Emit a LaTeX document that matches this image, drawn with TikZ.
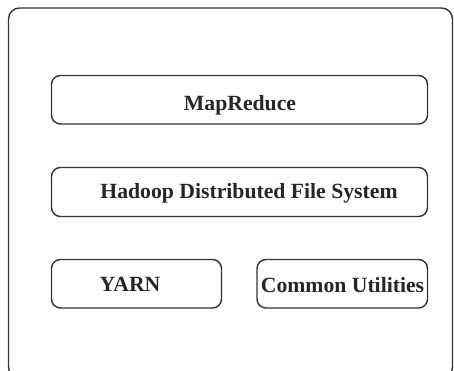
\documentclass[tikz,border=0pt]{standalone}
\usepackage{fontspec}
\setmainfont{Liberation Serif}
\begin{document}
\begin{tikzpicture}[x=1pt,y=-1pt,
  frame/.style={draw=black!80,line width=1.4pt,rounded corners=11pt},
  layer/.style={draw=black!80,line width=1.4pt,rounded corners=9pt},
  lbl/.style={font=\fontsize{21.7}{24}\selectfont\bfseries,text=black!85,inner sep=0pt}]
\useasboundingbox (0,0) rectangle (454,371);
\begin{scope}
\clip (0,0) rectangle (454,371);
\draw[frame] (8.5,8) rectangle (452.5,378);
\end{scope}
% stacked layers
\draw[layer] (51.5,75.5) rectangle (427.5,124);
\draw[layer] (51.5,167.5) rectangle (427.5,216.5);
\draw[layer] (51.5,259.5) rectangle (221.5,308);
\draw[layer] (257,259.5) rectangle (427.5,308);
\node[lbl] (mr) at (240,105) {MapReduce};
\node[lbl] (hdfs) at (249,193) {Hadoop Distributed File System};
\node[lbl] (yarn) at (130,284) {YARN};
\node[lbl] (cu) at (342.5,285) {Common Utilities};
\end{tikzpicture}
\end{document}
